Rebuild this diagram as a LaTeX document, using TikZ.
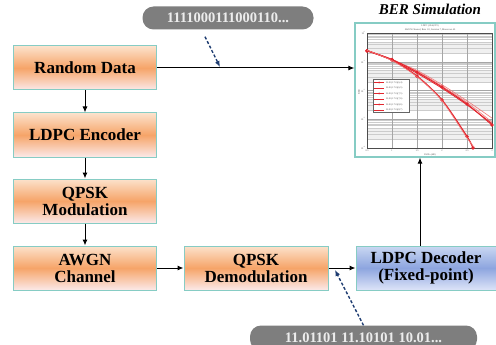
\documentclass[tikz,border=0pt]{standalone}
\usepackage{fontspec}
\setmainfont{Liberation Serif}
\usetikzlibrary{arrows.meta}

\definecolor{boxline}{HTML}{86CCC4}
\definecolor{orangetop}{HTML}{FCE2CC}
\definecolor{orangemid}{HTML}{F6A468}
\definecolor{orangebot}{HTML}{FBE9E9}
\definecolor{bluetop}{HTML}{CAD8F2}
\definecolor{bluemid}{HTML}{8DA5DF}
\definecolor{bluebot}{HTML}{DDE4F8}
\definecolor{pillgray}{HTML}{7E7E7E}
\definecolor{pilltext}{HTML}{ECECEC}
\definecolor{bitblue}{HTML}{1F3D72}
\definecolor{berred}{HTML}{E3262E}
\definecolor{berlight}{HTML}{F07A7A}

\tikzset{
  block/.style={draw=boxline, line width=1pt, minimum width=143pt, minimum height=44pt,
    align=center, font=\rmfamily\fontsize{17}{17}\selectfont\bfseries,
    top color=orangetop, bottom color=orangebot, middle color=orangemid},
  decblock/.style={block, minimum width=140pt,
    top color=bluetop, bottom color=bluebot, middle color=bluemid},
  pill/.style={fill=pillgray, rounded corners=11pt, text=pilltext,
    minimum height=23pt, font=\rmfamily\fontsize{14.5}{14.5}\selectfont\bfseries},
  flow/.style={-{Latex[length=6pt,width=5pt]}, line width=1pt},
  bits/.style={-{Latex[length=6pt,width=5pt]}, dash pattern=on 3pt off 2pt, bitblue, line width=1.4pt},
  tinytext/.style={font=\fontsize{2.4}{2.6}\selectfont, text=black!70, inner sep=0pt},
}

\begin{document}
\begin{tikzpicture}[x=1pt, y=-1pt]
    \useasboundingbox (0,0) rectangle (496,345);

    % left chain
    \node[block] (rand) at (85,68) {Random Data};
    \node[block] (enc) at (85,135) {LDPC Encoder};
    \node[block] (mod) at (85,201) {QPSK\\Modulation};
    \node[block] (awgn) at (85,268) {AWGN\\Channel};
    \node[block, minimum width=144pt] (demod) at (256,268) {QPSK\\Demodulation};
    \node[decblock] (dec) at (426,268) {LDPC Decoder\\(Fixed-point)};

    % bit strings
    \node[pill, minimum width=171pt] (bitsin) at (228,18) {1111000111000110...};
    \node[pill, minimum width=227pt, minimum height=25pt] (bitsout) at (363.5,338) {11.01101 11.10101 10.01...};

    % BER plot
    \node[font=\rmfamily\fontsize{15}{15}\selectfont\bfseries\itshape] (bertitle) at (430,9) {BER Simulation};
    \node[draw=boxline, line width=1.2pt, fill=white, minimum width=140pt, minimum height=134pt,
      inner sep=0pt] (ber) at (425,90) {};
    \node[tinytext] (plottitle) at (430,26) {LDPC (1944,972)};
    \node[tinytext] (plotsub) at (430,29.5) {AWGN Channel, Rate 1/2, Iteration 7, Maxerrors 40};
    \begin{scope}[shift={(367,33)}, x=50pt, y=28.75pt]
        \foreach \d in {-1,-2,-3,-4}
            \fill[gray!12] (0,{\d+log10(2)}) rectangle (2.5,{\d+log10(5)});
        \foreach \d in {-1,-2,-3,-4}
            \foreach \k in {2,...,9}
                \draw[gray!40, line width=0.3pt] (0,{\d+log10(\k)}) -- (2.5,{\d+log10(\k)});
        \foreach \d in {0,-1,-2,-3,-4}
            \draw[gray!70, line width=0.3pt] (0,\d) -- (2.5,\d);
        \foreach \t in {0.5,1,1.5,2,2.5}
            \draw[gray!70, line width=0.3pt] (\t,0) -- (\t,-4);
        \draw[black!70, line width=0.4pt] (0,0) rectangle (2.5,-4);
        \foreach \t/\l in {0/0.5,0.5/1,1/1.5,1.5/2,2/2.5,2.5/3}
            \node[tinytext, anchor=north] at (\t,-4.05) {\l};
        \foreach \d in {0,-1,-2,-3,-4}
            \node[tinytext, anchor=east] at (-0.03,\d) {10\textsuperscript{\d}};
        % curves
        \draw[berlight, line width=0.6pt] plot[smooth] coordinates {(0,-0.6) (0.5,-0.93) (1,-1.3) (1.5,-1.8) (2,-2.36) (2.5,-2.96)};
        \draw[berlight, line width=0.6pt] plot[smooth] coordinates {(0,-0.61) (0.5,-0.94) (1,-1.33) (1.5,-1.85) (2,-2.42) (2.5,-3.1)};
        \draw[berred, line width=1pt, mark=*, mark size=1.1pt] plot[smooth] coordinates {(0,-0.62) (0.5,-0.92) (1,-1.36) (1.5,-1.88) (2,-2.47) (2.5,-3.2)};
        \draw[berred, line width=0.8pt] plot[smooth] coordinates {(0,-0.6) (0.5,-0.95) (1,-1.4) (1.5,-1.92) (2,-2.5) (2.5,-3.15)};
        \draw[berred, line width=1.2pt, mark=*, mark size=1.1pt] plot[smooth] coordinates {(0,-0.62) (0.5,-0.94) (1,-1.5) (1.5,-2.33) (2,-3.6) (2.12,-4)};
        \draw[berlight, line width=0.6pt] plot[smooth] coordinates {(0,-0.6) (0.5,-0.96) (1,-1.52) (1.5,-2.36) (2,-3.65) (2.16,-4)};
    \end{scope}
    \node[tinytext] (berx) at (430,154.5) {Eb/No (dB)};
    \node[tinytext, rotate=90] (bery) at (359,92) {BER};
    % legend
    \draw[black!60, fill=white, line width=0.3pt] (373,79) rectangle (409,112);
    \foreach \n/\l [count=\i] in {1/{(6,4)},0/{(6,5)},1/{(7,5)},0/{(7,6)},1/{(8,6)},0/{(8,7)}} {
        \draw[berred, line width=0.6pt] (374,{77+5.5*\i}) -- (384,{77+5.5*\i});
        \ifnum\n=1 \fill[berred] (379,{77+5.5*\i}) circle (1pt); \fi
        \node[tinytext, anchor=west] at (386,{77+5.5*\i}) {LLR (1.7.0)\l};
    }

    % data flow
    \draw[flow] (rand) -- (enc);
    \draw[flow] (enc) -- (mod);
    \draw[flow] (mod) -- (awgn);
    \draw[flow] (awgn) -- (demod);
    \draw[flow] (demod) -- (dec);
    \draw[flow] (rand.east) -- (rand.east -| ber.west);
    \draw[flow] ([xshift=-6pt]dec.north) -- ([xshift=-6pt]dec.north |- ber.south);

    % bit string pointers
    \coordinate (tapin) at (220,67);
    \coordinate (tapout) at (335,270);
    \draw[bits] ([xshift=-23pt,yshift=-7pt]bitsin.south) -- (tapin);
    \draw[bits] (bitsout.north) -- (tapout);
\end{tikzpicture}
\end{document}
